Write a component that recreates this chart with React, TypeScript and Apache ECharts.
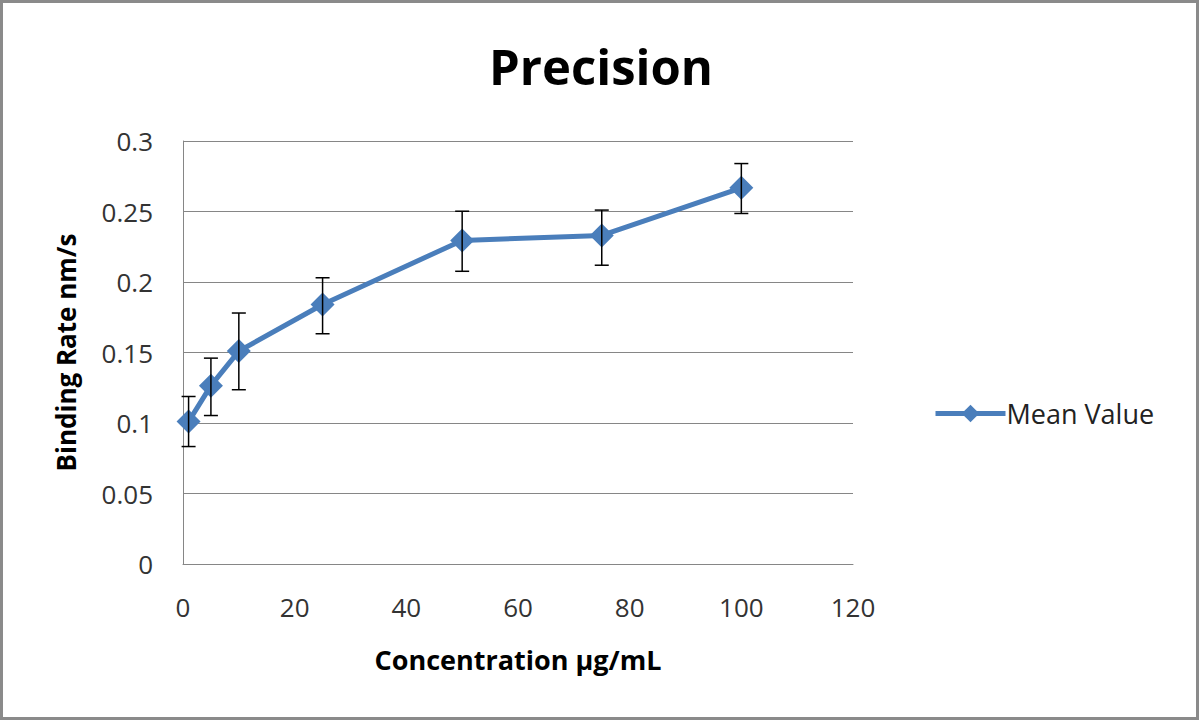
import React, { useEffect, useRef } from "react";
import * as echarts from "echarts";

const concentrations = [1, 5, 10, 25, 50, 75, 100];
const meanValues = [0.101, 0.1265, 0.151, 0.184, 0.2295, 0.233, 0.2668];
const errUpper = [0.1188, 0.146, 0.178, 0.203, 0.2502, 0.251, 0.284];
const errLower = [0.0833, 0.1053, 0.1236, 0.1633, 0.2076, 0.2119, 0.2486];
const xTicks = [0, 20, 40, 60, 80, 100, 120];
const yTicks = [0, 0.05, 0.1, 0.15, 0.2, 0.25, 0.3];

const FONT = "'Open Sans', 'Noto Sans', sans-serif";

export default function App() {
  const ref = useRef<HTMLDivElement>(null);
  useEffect(() => {
    if (!ref.current) return;
    const chart = echarts.init(ref.current, null, { renderer: "svg" });
    const errData = concentrations.map((c, i) => [c, errLower[i], errUpper[i]]);
    chart.setOption({
      animation: false,
      backgroundColor: "#ffffff",
      title: {
        text: "Precision",
        left: 596,
        top: 36,
        textAlign: "center",
        textStyle: { fontFamily: FONT, fontSize: 49, fontWeight: "bold", color: "#000" },
      },
      graphic: [
        {
          type: "rect",
          shape: { x: 1.5, y: 1.5, width: 1196, height: 717 },
          style: { fill: "none", stroke: "#8a8a8a", lineWidth: 3 },
          silent: true,
        },
      ],
      legend: {
        data: ["Mean Value"],
        orient: "vertical",
        left: 928,
        top: 395,
        itemWidth: 70,
        itemHeight: 22,
        itemGap: 8,
        lineStyle: { width: 5 },
        textStyle: { fontFamily: FONT, fontSize: 27, color: "#222", padding: [0, 0, 0, -4] },
      },
      grid: { left: 183, right: 347, top: 141, bottom: 157, containLabel: false },
      xAxis: {
        type: "value",
        min: xTicks[0],
        max: xTicks[xTicks.length - 1],
        interval: 20,
        name: "Concentration µg/mL",
        nameLocation: "middle",
        nameGap: 82,
        nameTextStyle: { fontFamily: FONT, fontSize: 27, fontWeight: "bold", color: "#000" },
        axisLine: { show: true, lineStyle: { color: "#868686", width: 1 } },
        axisTick: { show: false },
        splitLine: { show: false },
        axisLabel: { fontFamily: FONT, fontSize: 26, color: "#333", margin: 30 },
      },
      yAxis: {
        type: "value",
        min: yTicks[0],
        max: yTicks[yTicks.length - 1],
        interval: 0.05,
        name: "Binding Rate nm/s",
        nameLocation: "middle",
        nameGap: 104,
        nameRotate: 90,
        nameTextStyle: { fontFamily: FONT, fontSize: 26, fontWeight: "bold", color: "#000" },
        axisLine: { show: true, lineStyle: { color: "#868686", width: 1 } },
        axisTick: { show: false },
        splitLine: { show: true, lineStyle: { color: "#868686", width: 1 } },
        axisLabel: { fontFamily: FONT, fontSize: 26, color: "#333", margin: 30 },
      },
      series: [
        {
          name: "Mean Value",
          type: "line",
          data: concentrations.map((c, i) => [c, meanValues[i]]),
          symbol: "diamond",
          symbolSize: 24,
          itemStyle: { color: "#4A7EBB" },
          lineStyle: { color: "#4A7EBB", width: 5 },
          z: 3,
        },
        {
          name: "err",
          type: "custom",
          data: errData,
          z: 4,
          renderItem: (params: any, api: any) => {
            const x = api.value(0);
            const lo = api.coord([x, api.value(1)]);
            const hi = api.coord([x, api.value(2)]);
            const half = 7;
            const style = { stroke: "#000", lineWidth: 1.5 };
            return {
              type: "group",
              children: [
                { type: "line", shape: { x1: lo[0], y1: lo[1], x2: hi[0], y2: hi[1] }, style },
                { type: "line", shape: { x1: hi[0] - half, y1: hi[1], x2: hi[0] + half, y2: hi[1] }, style },
                { type: "line", shape: { x1: lo[0] - half, y1: lo[1], x2: lo[0] + half, y2: lo[1] }, style },
              ],
            };
          },
        },
      ],
    });
    return () => chart.dispose();
  }, []);
  return (
    <div
      ref={ref}
      style={{ position: "fixed", left: 0, top: 0, width: 1200, height: 721 }}
    />
  );
}
